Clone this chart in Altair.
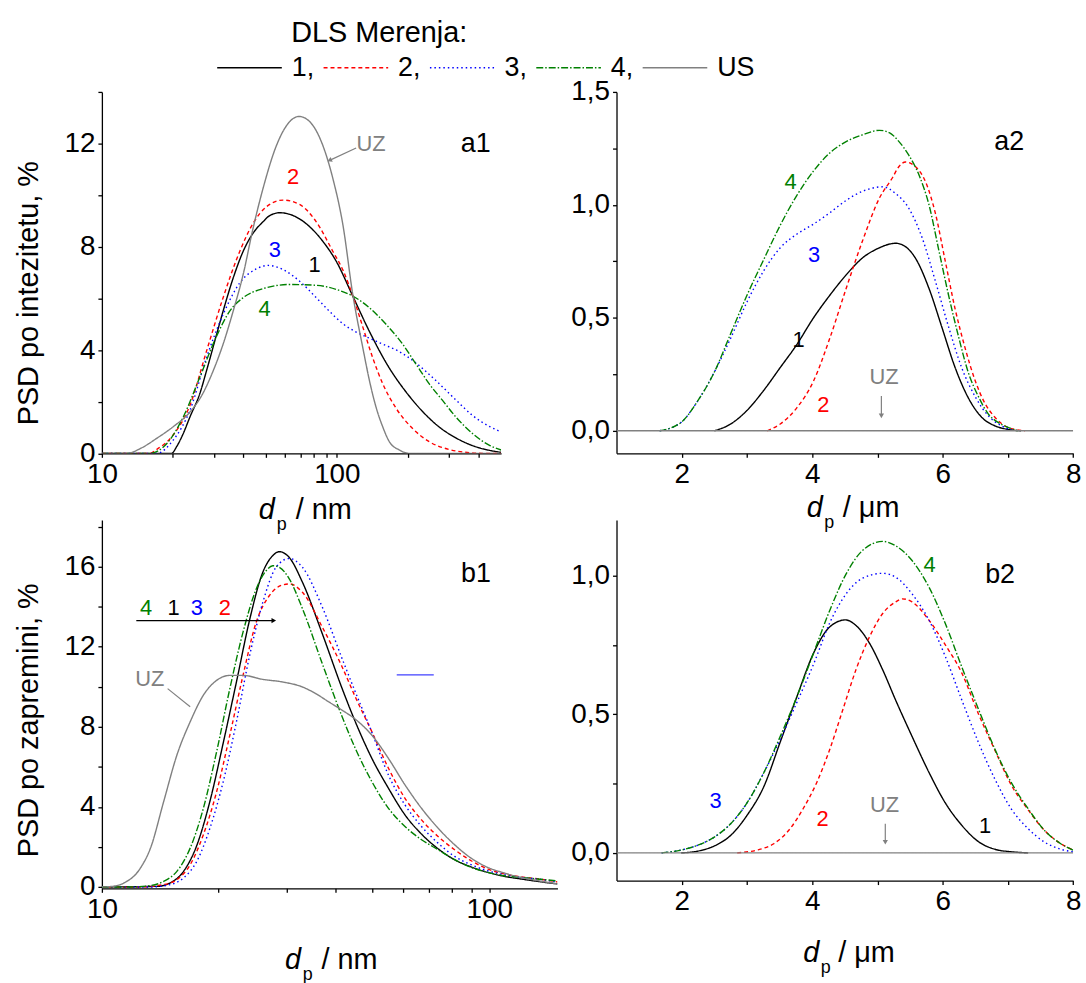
import altair as alt
import pandas as pd

FONT = "Liberation Sans"
SERIES = ["1", "2", "3", "4", "US"]
COLORS = ["#000000", "#ff0000", "#0000ff", "#008000", "#808080"]
DASHES = [[1, 0], [4, 3], [1.5, 3], [7, 2, 1.5, 2], [1, 0]]

# ---------------- panel a1 : intensity PSD, d_p in nm ----------------
A1_X_1 = [10, 19.8, 20.8, 22.2, 23.7, 26.1, 27.9, 30.8, 32.8, 36.2, 39.9, 44.0, 48.5, 51.8, 57.1, 63.0, 69.4, 76.6, 87.2, 99.4, 116.9, 137.6, 167.3, 196.9, 231.7, 272.7, 320.9, 377.7, 444.5, 500]
A1_Y_1 = [0, 0, 0.26, 0.77, 1.41, 2.31, 3.21, 4.62, 5.51, 6.79, 7.82, 8.53, 8.97, 9.21, 9.32, 9.26, 9.08, 8.78, 8.21, 7.44, 6.09, 4.72, 3.3, 2.38, 1.62, 1.02, 0.6, 0.3, 0.12, 0.04]
A1_X_2 = [10, 16.0, 17.1, 20.1, 23.7, 27.9, 32.8, 38.6, 44.0, 50.1, 59.0, 69.4, 81.7, 96.2, 106.1, 116.9, 128.9, 142.1, 156.7, 178.6, 210.2, 247.3, 300.7, 365.6, 416.5, 500]
A1_Y_2 = [0, 0, 0.15, 0.71, 1.86, 3.97, 6.03, 7.82, 8.91, 9.55, 9.81, 9.64, 8.97, 7.82, 7.1, 6.1, 4.9, 3.7, 2.7, 1.75, 0.96, 0.45, 0.15, 0.03, 0, 0]
A1_X_3 = [10, 17.1, 20.1, 23.7, 27.9, 32.8, 38.6, 45.5, 51.0, 59.0, 69.4, 81.7, 93.1, 106.1, 120.8, 137.6, 156.7, 184.5, 217.1, 263.9, 320.9, 377.7, 444.5, 500]
A1_Y_3 = [0, 0, 0.51, 1.67, 3.72, 5.38, 6.6, 7.15, 7.28, 7.12, 6.67, 6.03, 5.5, 5.02, 4.7, 4.46, 4.23, 3.94, 3.5, 2.82, 2.07, 1.47, 1.05, 0.83]
A1_X_4 = [10, 16.0, 18.9, 22.2, 26.1, 30.8, 35.0, 39.9, 48.5, 63.0, 81.7, 99.4, 116.9, 137.6, 161.9, 190.6, 217.1, 247.3, 281.7, 320.9, 377.7, 444.5, 500]
A1_Y_4 = [0, 0, 0.38, 1.41, 2.95, 4.55, 5.51, 6.03, 6.38, 6.54, 6.51, 6.35, 6.09, 5.64, 5.0, 4.23, 3.46, 2.69, 2.05, 1.41, 0.77, 0.32, 0.13]
A1_X_US = [10, 12.8, 14.6, 17.1, 20.1, 23.7, 26.6, 29.8, 32.8, 36.2, 39.9, 44.0, 48.5, 55.3, 63.0, 69.0, 76.6, 87.2, 96.2, 106.1, 116.9, 128.9, 137.6, 146.8, 156.7, 167.3, 184.5, 203.4, 500]
A1_Y_US = [0, 0, 0.19, 0.58, 1.03, 1.6, 2.24, 3.21, 4.23, 5.51, 6.92, 8.72, 10.26, 11.92, 12.85, 13.05, 12.85, 11.92, 10.64, 8.85, 6.15, 4.1, 2.82, 1.79, 1.03, 0.45, 0.13, 0, 0]

# ---------------- panel a2 : intensity PSD, d_p in um ----------------
A2_X_1 = [2.5, 2.75, 3.0, 3.26, 3.51, 3.76, 4.02, 4.27, 4.52, 4.77, 5.03, 5.18, 5.28, 5.43, 5.58, 5.79, 5.99, 6.19, 6.39, 6.60, 6.80, 7.0, 7.2]
A2_Y_1 = [0, 0.03, 0.09, 0.18, 0.28, 0.38, 0.5, 0.60, 0.69, 0.765, 0.81, 0.826, 0.83, 0.815, 0.765, 0.63, 0.456, 0.28, 0.147, 0.059, 0.022, 0.006, 0]
A2_X_2 = [3.31, 3.51, 3.76, 4.02, 4.27, 4.52, 4.77, 5.03, 5.23, 5.33, 5.43, 5.58, 5.74, 5.89, 6.04, 6.19, 6.34, 6.50, 6.65, 6.80, 7.0, 7.26]
A2_Y_2 = [0, 0.03, 0.10, 0.22, 0.41, 0.63, 0.84, 1.03, 1.12, 1.17, 1.19, 1.17, 1.10, 0.96, 0.75, 0.54, 0.37, 0.22, 0.12, 0.06, 0.015, 0]
A2_X_3 = [1.66, 1.99, 2.24, 2.5, 2.75, 3.0, 3.26, 3.51, 3.76, 4.02, 4.27, 4.52, 4.77, 5.08, 5.28, 5.48, 5.69, 5.89, 6.09, 6.29, 6.50, 6.70, 6.90, 7.1]
A2_Y_3 = [0, 0.037, 0.13, 0.26, 0.41, 0.57, 0.71, 0.81, 0.87, 0.915, 0.965, 1.02, 1.06, 1.08, 1.05, 0.985, 0.85, 0.66, 0.46, 0.28, 0.15, 0.066, 0.022, 0]
A2_X_4 = [1.66, 1.99, 2.24, 2.5, 2.75, 3.0, 3.26, 3.51, 3.76, 4.02, 4.27, 4.52, 4.77, 5.03, 5.18, 5.33, 5.48, 5.64, 5.79, 5.94, 6.09, 6.24, 6.39, 6.55, 6.70, 6.85, 7.0, 7.15]
A2_Y_4 = [0, 0.037, 0.13, 0.26, 0.43, 0.60, 0.76, 0.91, 1.04, 1.15, 1.23, 1.28, 1.31, 1.33, 1.32, 1.28, 1.22, 1.13, 1.0, 0.80, 0.60, 0.42, 0.26, 0.15, 0.074, 0.037, 0.015, 0]
A2_X_US = [1, 8]
A2_Y_US = [0, 0]

# ---------------- panel b1 : volume PSD, d_p in nm ----------------
B1_X_1 = [10, 13.9, 15.0, 16.25, 17.6, 19.0, 20.6, 22.25, 24.1, 26.0, 27.6, 28.7, 30.46, 32.95, 37.07, 41.71, 45.11, 49.78, 54.93, 60.6, 66.86, 73.76, 81.38, 89.78, 99.0, 109.3, 120.5, 133.0, 150]
B1_Y_1 = [0, 0.03, 0.2, 0.78, 2.1, 4.27, 7.25, 10.24, 13.4, 15.7, 16.55, 16.75, 16.46, 15.22, 12.65, 9.91, 8.25, 6.42, 4.93, 3.60, 2.64, 1.91, 1.36, 1.0, 0.73, 0.53, 0.40, 0.28, 0.15]
B1_X_2 = [10, 12.58, 14.44, 15.62, 16.9, 18.28, 19.78, 21.39, 23.14, 25.03, 27.07, 29.29, 30.46, 32.95, 37.07, 41.71, 45.11, 49.78, 54.93, 60.6, 66.86, 73.76, 81.38, 89.78, 99.0, 109.3, 120.5, 133.0, 150]
B1_Y_2 = [0, 0, 0.12, 0.37, 1.11, 2.61, 4.76, 7.58, 10.57, 13.23, 14.56, 15.09, 15.14, 14.72, 12.98, 10.99, 9.49, 7.75, 5.93, 4.43, 3.35, 2.52, 1.86, 1.31, 0.90, 0.65, 0.51, 0.41, 0.25]
B1_X_3 = [10, 13.35, 15.02, 16.25, 17.58, 19.01, 20.57, 22.25, 24.07, 26.03, 28.16, 30.46, 32.95, 37.07, 41.71, 45.11, 49.78, 54.93, 60.6, 66.86, 73.76, 81.38, 89.78, 99.0, 109.3, 120.5, 133.0, 150]
B1_Y_3 = [0, 0, 0.12, 0.45, 1.28, 2.94, 5.26, 8.25, 11.57, 14.22, 15.97, 16.41, 15.97, 13.98, 11.40, 9.74, 7.72, 5.59, 4.10, 3.02, 2.19, 1.53, 1.11, 0.81, 0.61, 0.48, 0.40, 0.25]
B1_X_4 = [10, 11.86, 13.35, 14.44, 15.62, 16.9, 18.28, 19.78, 21.39, 23.14, 25.03, 26.55, 27.61, 28.72, 30.46, 32.95, 37.07, 41.71, 45.11, 49.78, 54.93, 60.6, 66.86, 73.76, 81.38, 89.78, 99.0, 109.3, 120.5, 133.0, 150]
B1_Y_4 = [0, 0, 0.07, 0.28, 0.78, 1.94, 3.93, 6.76, 9.9, 12.73, 14.89, 15.8, 16.05, 15.97, 15.39, 13.9, 11.15, 8.5, 6.92, 5.26, 3.93, 3.02, 2.36, 1.86, 1.36, 0.98, 0.73, 0.56, 0.48, 0.40, 0.3]
B1_X_US = [10, 10.54, 11.41, 12.58, 13.35, 14.44, 15.62, 16.9, 18.28, 19.78, 21.39, 23.14, 26.03, 29.29, 32.95, 35.64, 38.56, 41.71, 45.11, 49.78, 54.93, 60.6, 66.86, 73.76, 81.38, 89.78, 99.0, 109.3, 120.5, 133.0, 150]
B1_Y_US = [0, 0.02, 0.2, 0.95, 1.94, 4.27, 6.59, 8.25, 9.58, 10.32, 10.57, 10.57, 10.37, 10.24, 9.99, 9.66, 9.24, 8.83, 8.38, 7.58, 6.42, 5.10, 3.93, 2.94, 2.11, 1.44, 0.98, 0.70, 0.48, 0.32, 0.15]

# ---------------- panel b2 : volume PSD, d_p in um ----------------
B2_X_1 = [1.99, 2.24, 2.5, 2.75, 3.0, 3.26, 3.51, 3.76, 4.02, 4.27, 4.51, 4.67, 4.88, 5.08, 5.28, 5.53, 5.79, 6.04, 6.29, 6.55, 6.80, 7.05, 7.31]
B2_Y_1 = [0, 0.006, 0.025, 0.063, 0.135, 0.24, 0.40, 0.56, 0.72, 0.815, 0.84, 0.82, 0.755, 0.66, 0.55, 0.42, 0.29, 0.18, 0.10, 0.04, 0.013, 0.004, 0]
B2_X_2 = [2.85, 3.15, 3.41, 3.66, 3.86, 4.07, 4.27, 4.47, 4.67, 4.88, 5.08, 5.28, 5.38, 5.53, 5.79, 6.04, 6.29, 6.55, 6.80, 7.05, 7.31, 7.56, 7.81, 8.0]
B2_Y_2 = [0, 0.01, 0.033, 0.087, 0.159, 0.254, 0.374, 0.517, 0.66, 0.78, 0.863, 0.905, 0.916, 0.905, 0.839, 0.75, 0.65, 0.50, 0.37, 0.245, 0.155, 0.081, 0.033, 0.01]
B2_X_3 = [1.69, 1.99, 2.24, 2.5, 2.75, 3.0, 3.26, 3.51, 3.76, 4.02, 4.27, 4.52, 4.77, 5.08, 5.28, 5.53, 5.79, 6.04, 6.29, 6.55, 6.80, 7.05, 7.31, 7.56, 7.81, 8.0]
B2_Y_3 = [0, 0.01, 0.027, 0.057, 0.105, 0.18, 0.29, 0.41, 0.54, 0.68, 0.83, 0.934, 0.99, 1.008, 0.994, 0.934, 0.839, 0.708, 0.553, 0.397, 0.266, 0.159, 0.087, 0.039, 0.013, 0.004]
B2_X_4 = [1.69, 1.99, 2.24, 2.5, 2.75, 3.0, 3.26, 3.51, 3.76, 4.02, 4.27, 4.52, 4.77, 5.08, 5.28, 5.53, 5.79, 6.04, 6.29, 6.55, 6.80, 7.05, 7.31, 7.56, 7.81, 8.0]
B2_Y_4 = [0, 0.01, 0.027, 0.057, 0.105, 0.18, 0.29, 0.42, 0.56, 0.72, 0.875, 1.006, 1.09, 1.123, 1.107, 1.054, 0.958, 0.827, 0.672, 0.517, 0.374, 0.254, 0.159, 0.081, 0.033, 0.01]
B2_X_US = [1, 8]
B2_Y_US = [0, 0]

# ---------------- tick values ----------------
A1_XTICKS = [10, 20, 30, 40, 50, 60, 70, 80, 90, 100, 200, 300, 400]
B1_XTICKS = [10, 20, 30, 40, 50, 60, 70, 80, 90, 100]
UM_XTICKS = [2, 3, 4, 5, 6, 7, 8]
A1_YTICKS = [0, 2, 4, 6, 8, 10, 12, 14]
B1_YTICKS = [0, 2, 4, 6, 8, 10, 12, 14, 16, 18]
A2_YTICKS = [0, 0.25, 0.5, 0.75, 1.0, 1.25, 1.5]
B2_YTICKS = [0, 0.25, 0.5, 0.75, 1.0]

# ---------------- annotations (label, x, y, colour, size) ----------------
A1_LAB = ["UZ", "2", "3", "1", "4", "a1"]
A1_LAB_X = [139.9, 65.1, 54.4, 80.4, 49.3, 390]
A1_LAB_Y = [12.0, 10.7, 7.86, 7.31, 5.58, 12.0]
A1_LAB_C = ["#808080", "#ff0000", "#0000ff", "#000000", "#008000", "#000000"]
A1_LAB_S = [22, 22, 22, 22, 22, 27]

A2_LAB = ["4", "3", "1", "2", "UZ", "a2"]
A2_LAB_X = [3.67, 4.03, 3.79, 4.17, 5.10, 7.02]
A2_LAB_Y = [1.10, 0.78, 0.40, 0.115, 0.24, 1.28]
A2_LAB_C = ["#008000", "#0000ff", "#000000", "#ff0000", "#808080", "#000000"]
A2_LAB_S = [22, 22, 22, 22, 22, 27]

B1_LAB = ["4", "1", "3", "2", "UZ", "b1"]
B1_LAB_X = [13.01, 15.32, 17.58, 20.77, 13.29, 92.4]
B1_LAB_Y = [13.94, 13.94, 13.94, 13.94, 10.37, 15.63]
B1_LAB_C = ["#008000", "#000000", "#0000ff", "#ff0000", "#808080", "#000000"]
B1_LAB_S = [22, 22, 22, 22, 22, 27]

B2_LAB = ["4", "b2", "3", "2", "UZ", "1"]
B2_LAB_X = [5.80, 6.88, 2.52, 4.16, 5.11, 6.65]
B2_LAB_Y = [1.038, 1.0, 0.187, 0.123, 0.173, 0.097]
B2_LAB_C = ["#008000", "#000000", "#0000ff", "#ff0000", "#808080", "#000000"]
B2_LAB_S = [22, 27, 22, 22, 22, 22]

# pointer segments (x, x2, y, y2, colour)
A1_SEG = ([120.8], [93.1], [11.83], [11.35], ["#808080"])
A2_SEG = ([5.06], [5.06], [0.154], [0.07], ["#808080"])
B1_SEG = ([14.78, 12.27, 57.7], [16.9, 27.78, 71.9], [9.91, 13.31, 10.6], [9.0, 13.31, 10.6], ["#808080", "#000000", "#4040ff"])
B2_SEG = ([5.12], [5.12], [0.105], [0.042], ["#808080"])

# arrow heads (x, y, shape, angle, colour)
A1_HEAD = ([93.1], [11.35], ["triangle-up"], [245], ["#808080"])
A2_HEAD = ([5.06], [0.066], ["triangle-down"], [0], ["#808080"])
B1_HEAD = ([27.78], [13.31], ["triangle-right"], [0], ["#000000"])
B2_HEAD = ([5.12], [0.038], ["triangle-down"], [0], ["#808080"])


def long_df(pairs):
    rows = []
    for s, xs, ys in pairs:
        for i, (xv, yv) in enumerate(zip(xs, ys)):
            rows.append({"s": s, "x": xv, "y": yv, "i": i})
    return pd.DataFrame(rows)


AX = dict(domainColor="#000000", domainWidth=1.3, tickColor="#000000", tickWidth=1.3,
          tickSize=4, labelFont=FONT, labelFontSize=28, labelColor="#000000",
          grid=False, labelPadding=3, labelFlush=False)
TITLE = dict(titleFont=FONT, titleFontSize=29, titleFontWeight="normal", titleColor="#000000",
             titleAngle=270, titleAlign="center", titleBaseline="alphabetic")

LOG_LABELS = "(datum.value == 10 || datum.value == 100) ? format(datum.value, 'd') : ''"
COMMA_LABELS = "datum.value % 0.5 == 0 ? replace(format(datum.value, '.1f'), '.', ',') : ''"


def panel(lines, xscale, yscale, xaxis, yaxis, w, h, legend, lab, seg, head, xtitle, extra=None):
    # every layer carries the same axis definition so that the shared axes merge cleanly
    xs = alt.X("x:Q", scale=xscale, axis=xaxis)
    ys = alt.Y("y:Q", scale=yscale, axis=yaxis)
    color = alt.Color("s:N", scale=alt.Scale(domain=SERIES, range=COLORS), legend=legend)
    dash = alt.StrokeDash("s:N", scale=alt.Scale(domain=SERIES, range=DASHES), legend=legend)
    layers = [alt.Chart(lines).mark_line(strokeWidth=1.4, clip=True, interpolate="monotone")
              .encode(x=xs, y=ys, color=color, strokeDash=dash, order="i:Q")]
    sdf = pd.DataFrame({"x": seg[0], "x2": seg[1], "y": seg[2], "y2": seg[3], "c": seg[4]})
    for c in dict.fromkeys(seg[4]):
        layers.append(alt.Chart(sdf).transform_filter(alt.datum.c == c)
                      .mark_rule(color=c, strokeWidth=1.2)
                      .encode(x=xs, x2="x2:Q", y=ys, y2="y2:Q"))
    for k in range(len(head[0])):
        hdf = pd.DataFrame({"x": [head[0][k]], "y": [head[1][k]]})
        layers.append(alt.Chart(hdf).mark_point(shape=head[2][k], angle=head[3][k], filled=True,
                                                size=28, color=head[4][k], opacity=1)
                      .encode(x=xs, y=ys))
    tdf = pd.DataFrame({"t": lab[0], "x": lab[1], "y": lab[2], "c": lab[3], "fs": lab[4]})
    for c in dict.fromkeys(lab[3]):
        layers.append(alt.Chart(tdf).transform_filter(alt.datum.c == c)
                      .mark_text(font=FONT, color=c, align="center", baseline="middle")
                      .encode(x=xs, y=ys, text="t:N", size=alt.Size("fs:Q", scale=None, legend=None)))
    # x-axis title: italic d, subscript p, "/ unit"
    d_right, p_left, base_y, unit_left, unit = xtitle
    one = pd.DataFrame({"t": [0]})
    layers.append(alt.Chart(one).mark_text(text="d", font=FONT, fontSize=29, fontStyle="italic",
                                           align="right", baseline="alphabetic", color="#000000")
                  .encode(x=alt.value(d_right), y=alt.value(base_y)))
    layers.append(alt.Chart(one).mark_text(text="p", font=FONT, fontSize=18,
                                           align="left", baseline="alphabetic", color="#000000")
                  .encode(x=alt.value(p_left), y=alt.value(base_y + 11)))
    layers.append(alt.Chart(one).mark_text(text="/ " + unit, font=FONT, fontSize=29,
                                           align="left", baseline="alphabetic", color="#000000")
                  .encode(x=alt.value(unit_left), y=alt.value(base_y)))
    if extra is not None:
        layers.append(extra)
    return alt.layer(*layers).properties(width=w, height=h)


LEG = alt.Legend(title=None, orient="none", legendX=115, legendY=-58, direction="horizontal",
                 columns=5, symbolType="stroke", symbolSize=4225, symbolStrokeWidth=1.5,
                 labelFont=FONT, labelFontSize=27, labelColor="#000000", labelOffset=9,
                 columnPadding=6, padding=0,
                 labelExpr="datum.label == 'US' ? 'US' : datum.label + ','")

header = (alt.Chart(pd.DataFrame({"t": ["DLS Merenja:"]}))
          .mark_text(font=FONT, fontSize=29, align="center", baseline="alphabetic", color="#000000")
          .encode(text="t:N", x=alt.value(279), y=alt.value(-50)))

a1 = panel(
    long_df([("1", A1_X_1, A1_Y_1), ("2", A1_X_2, A1_Y_2), ("3", A1_X_3, A1_Y_3),
             ("4", A1_X_4, A1_Y_4), ("US", A1_X_US, A1_Y_US)]),
    alt.Scale(type="log", domain=[10, 500], nice=False),
    alt.Scale(domain=[0, 14], nice=False),
    alt.Axis(values=A1_XTICKS, labelExpr=LOG_LABELS, title=None, **AX),
    alt.Axis(values=A1_YTICKS, labelExpr="datum.value % 4 == 0 ? datum.label : ''",
             title="PSD po intezitetu, %", titleX=-65, titleY=202, **TITLE, **AX),
    401.6, 363.6, LEG,
    (A1_LAB, A1_LAB_X, A1_LAB_Y, A1_LAB_C, A1_LAB_S), A1_SEG, A1_HEAD,
    (174, 176, 430, 195, "nm"), extra=header)

a2 = panel(
    long_df([("1", A2_X_1, A2_Y_1), ("2", A2_X_2, A2_Y_2), ("3", A2_X_3, A2_Y_3),
             ("4", A2_X_4, A2_Y_4), ("US", A2_X_US, A2_Y_US)]),
    alt.Scale(domain=[1, 8], nice=False, zero=False),
    alt.Scale(domain=[-0.1, 1.5], nice=False, zero=False),
    alt.Axis(values=UM_XTICKS, labelExpr="datum.value % 2 == 0 ? datum.label : ''", title=None, **AX),
    alt.Axis(values=A2_YTICKS, labelExpr=COMMA_LABELS, title=None, **AX),
    459.4, 363.6, None,
    (A2_LAB, A2_LAB_X, A2_LAB_Y, A2_LAB_C, A2_LAB_S), A2_SEG, A2_HEAD,
    (207.4, 209, 428, 227.7, "\u03bcm"))

b1 = panel(
    long_df([("1", B1_X_1, B1_Y_1), ("2", B1_X_2, B1_Y_2), ("3", B1_X_3, B1_Y_3),
             ("4", B1_X_4, B1_Y_4), ("US", B1_X_US, B1_Y_US)]),
    alt.Scale(type="log", domain=[10, 150], nice=False),
    alt.Scale(domain=[-0.07, 18.33], nice=False, zero=False),
    alt.Axis(values=B1_XTICKS, labelExpr=LOG_LABELS, title=None, **AX),
    alt.Axis(values=B1_YTICKS, labelExpr="datum.value % 4 == 0 ? datum.label : ''",
             title="PSD po zapremini, %", titleX=-64.5, titleY=201, **TITLE, **AX),
    458.3, 370.5, None,
    (B1_LAB, B1_LAB_X, B1_LAB_Y, B1_LAB_C, B1_LAB_S), B1_SEG, B1_HEAD,
    (200.4, 202, 452, 221, "nm"))

b2 = panel(
    long_df([("1", B2_X_1, B2_Y_1), ("2", B2_X_2, B2_Y_2), ("3", B2_X_3, B2_Y_3),
             ("4", B2_X_4, B2_Y_4), ("US", B2_X_US, B2_Y_US)]),
    alt.Scale(domain=[1, 8], nice=False, zero=False),
    alt.Scale(domain=[-0.1, 1.2], nice=False, zero=False),
    alt.Axis(values=UM_XTICKS, labelExpr="datum.value % 2 == 0 ? datum.label : ''", title=None, **AX),
    alt.Axis(values=B2_YTICKS, labelExpr=COMMA_LABELS, title=None, **AX),
    459.4, 362.7, None,
    (B2_LAB, B2_LAB_X, B2_LAB_Y, B2_LAB_C, B2_LAB_S), B2_SEG, B2_HEAD,
    (203.9, 205.5, 445, 223, "\u03bcm"))

chart = (alt.concat(a1, a2, b1, b2, columns=2, spacing={"row": 66.7, "column": 58.7},
                    bounds="flush", align="each")
         .resolve_scale(color="independent", strokeDash="independent")
         .properties(padding={"left": 14.5, "top": 16.5, "right": 5, "bottom": 5})
         .configure_view(strokeWidth=0))

chart.save("out.html", embed_options={"renderer": "svg", "actions": False})
